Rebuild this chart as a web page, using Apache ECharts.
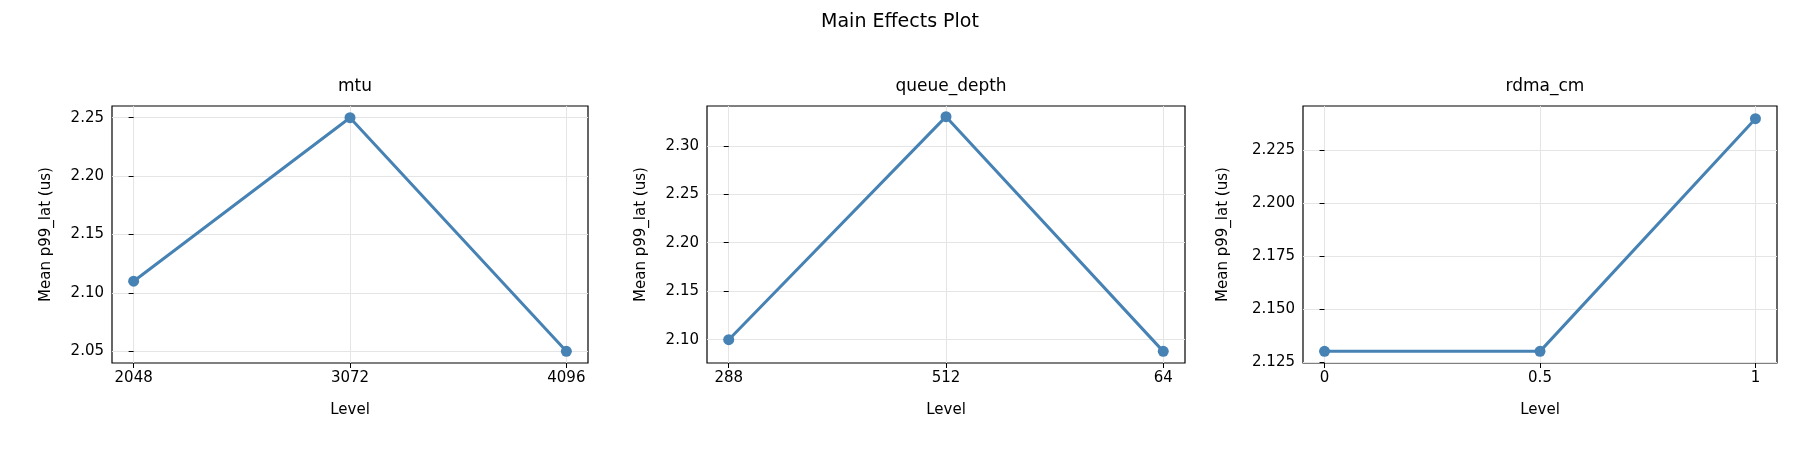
<!DOCTYPE html>
<html><head><meta charset="utf-8">
<script src="https://cdn.jsdelivr.net/npm/echarts@6/dist/echarts.min.js"></script>
<style>html,body{margin:0;padding:0;background:#fff}#c{width:1800px;height:450px}</style>
</head><body><div id="c"></div>
<script>
const titles = ['mtu','queue_depth','rdma_cm'];
const cats1 = ['2048','3072','4096'];
const cats2 = ['288','512','64'];
const cats3 = ['0','0.5','1'];
const vals1 = [2.11, 2.25, 2.05];
const vals2 = [2.10, 2.33, 2.088];
const vals3 = [2.13, 2.13, 2.24];
const yTicks1 = [2.05,2.10,2.15,2.20,2.25];
const yTicks2 = [2.10,2.15,2.20,2.25,2.30];
const yTicks3 = [2.125,2.150,2.175,2.200,2.225];
const yRange = [[2.04,2.26],[2.076,2.341],[2.1245,2.246]];
const dec = [2,2,3];
const cats = [cats1,cats2,cats3], vals=[vals1,vals2,vals3], yt=[yTicks1,yTicks2,yTicks3];
const lefts=[112,707,1303], rights=[1800-588,1800-1185,1800-1777];
const F='DejaVu Sans';
const chart = echarts.init(document.getElementById('c'));
const grid=[],xAxis=[],yAxis=[],series=[],title=[{text:'Main Effects Plot',left:'center',top:8,textStyle:{fontFamily:F,fontSize:19,fontWeight:'normal',color:'#000'}}];
for(let i=0;i<3;i++){
  grid.push({left:lefts[i],right:rights[i],top:106,bottom:450-363,show:true,borderColor:'#000',borderWidth:1.2,backgroundColor:'transparent'});
  title.push({text:titles[i],left:(lefts[i]+(1800-rights[i]))/2,textAlign:'center',top:73,textStyle:{fontFamily:F,fontSize:17,fontWeight:'normal',color:'#000'}});
  const c=cats[i];
  xAxis.push({type:'value',gridIndex:i,min:-0.1,max:2.1,name:'Level',nameLocation:'middle',nameGap:40,
    nameTextStyle:{fontFamily:F,fontSize:15,color:'#000'},
    axisLine:{show:false},
    axisTick:{show:true,length:5,customValues:[0,1,2],lineStyle:{color:'#000'}},
    axisLabel:{customValues:[0,1,2],fontFamily:F,fontSize:15,color:'#000',margin:8,formatter:v=>c[Math.round(v)]},
    splitLine:{show:true,lineStyle:{color:'#e5e5e5'}}});
  yAxis.push({type:'value',gridIndex:i,min:yRange[i][0],max:yRange[i][1],name:'Mean p99_lat (us)',nameLocation:'middle',nameGap:i==2?72:58,
    nameTextStyle:{fontFamily:F,fontSize:15,color:'#000'},
    axisLine:{show:false},
    axisTick:{show:true,length:5,customValues:yt[i],lineStyle:{color:'#000'}},
    axisLabel:{customValues:yt[i],fontFamily:F,fontSize:15,color:'#000',margin:8,formatter:v=>v.toFixed(dec[i])},
    splitLine:{show:true,lineStyle:{color:'#e5e5e5'}}});
  series.push({type:'line',xAxisIndex:i,yAxisIndex:i,data:vals[i].map((v,j)=>[j,v]),
    symbol:'circle',symbolSize:11,lineStyle:{color:'#4682b4',width:3},itemStyle:{color:'#4682b4'}});
}
chart.setOption({animation:false,title,grid,xAxis,yAxis,series});
</script></body></html>
